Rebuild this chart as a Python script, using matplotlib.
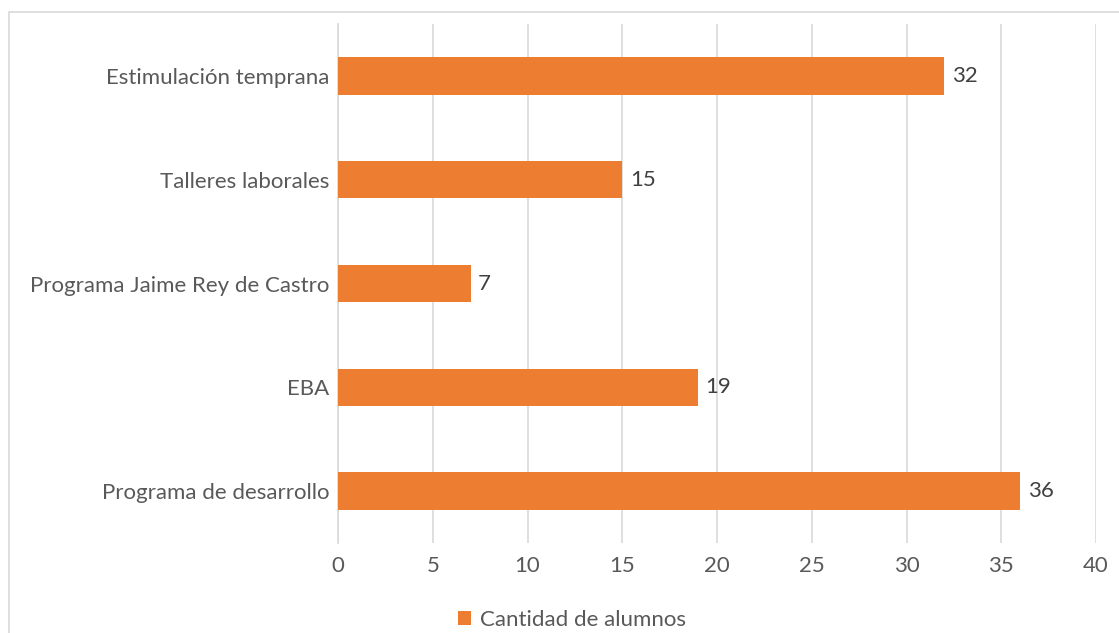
import matplotlib.pyplot as plt
from matplotlib.patches import Rectangle

categories = ["Programa de desarrollo", "EBA", "Programa Jaime Rey de Castro",
              "Talleres laborales", "Estimulación temprana"]
values = [36, 19, 7, 15, 32]
xticks = [0, 5, 10, 15, 20, 25, 30, 35, 40]

orange = "#ED7D31"
text_col = "#595959"

plt.rcParams["font.family"] = ["Lato", "DejaVu Sans"]
fs = 16

fig = plt.figure(figsize=(11.19, 6.33), dpi=100)
ax = fig.add_axes([338 / 1119, 90 / 633, 758 / 1119, 519 / 633])

# chart frame like Excel
fig.patches.append(Rectangle((9 / 1119, -0.05), 1.2, 1 - 12 / 633 + 0.05,
                             transform=fig.transFigure, fill=False,
                             edgecolor="#d9d9d9", linewidth=1.2))

ypos = range(len(categories))
bars = ax.barh(ypos, values, height=0.36, color=orange, label="Cantidad de alumnos", zorder=3)
for y, v in zip(ypos, values):
    ax.text(v + 0.4, y, str(v), va="center", ha="left", fontsize=fs, color="#404040")

ax.set_xlim(0, 40)
ax.set_ylim(-0.5, len(categories) - 0.5)
ax.set_xticks(xticks)
ax.set_yticks(list(ypos))
ax.set_yticklabels(categories)
ax.tick_params(axis="both", length=0, labelsize=fs, labelcolor=text_col)
ax.tick_params(axis="x", pad=9)
ax.tick_params(axis="y", pad=6)
ax.grid(axis="x", color="#d9d9d9", linewidth=1.2, zorder=0)

for s in ["top", "right", "bottom"]:
    ax.spines[s].set_visible(False)
ax.spines["left"].set_color("#d9d9d9")
ax.spines["left"].set_linewidth(1.2)

fig.legend(handles=[bars], labels=["Cantidad de alumnos"], loc="center",
           bbox_to_anchor=(572 / 1119, 1 - 620 / 633), frameon=False,
           fontsize=fs, labelcolor=text_col, handlelength=0.6, handleheight=0.6,
           handletextpad=0.4)

plt.savefig("out.png", dpi=100)
